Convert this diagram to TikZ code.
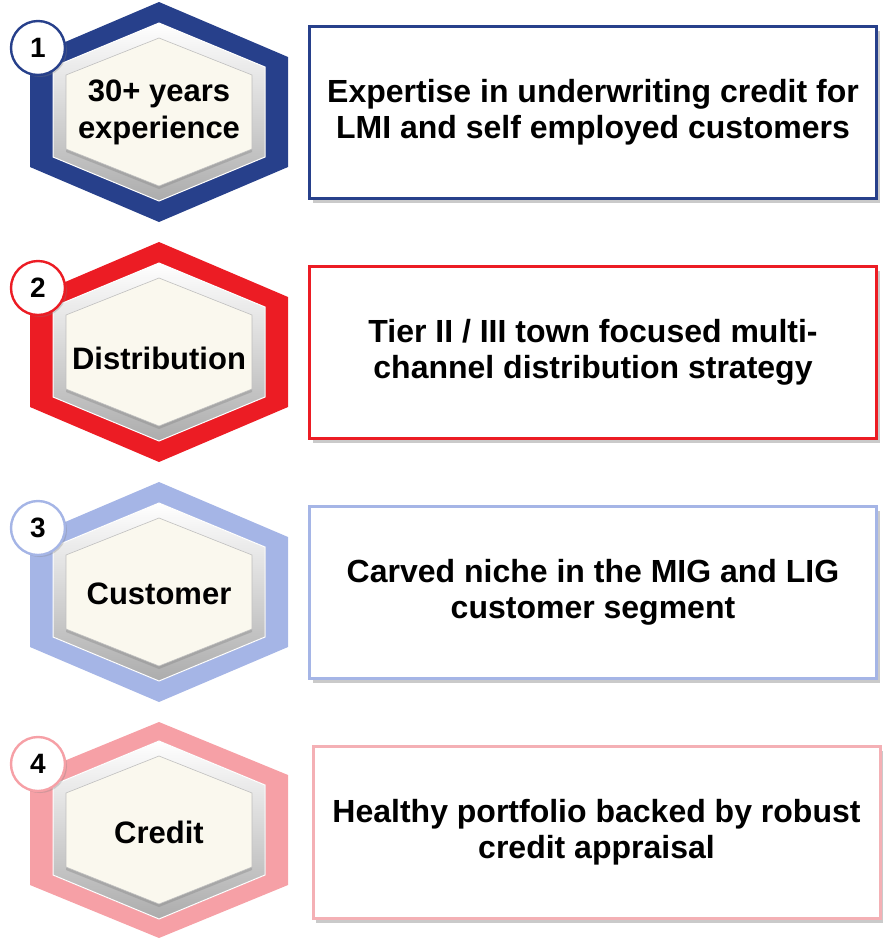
\documentclass[tikz,border=0pt]{standalone}
\usepackage{fontspec}
\setmainfont{Liberation Sans}
\usetikzlibrary{shadows}

\definecolor{navy}{HTML}{27408B}
\definecolor{scarlet}{HTML}{EC1C24}
\definecolor{lavender}{HTML}{A5B5E6}
\definecolor{rose}{HTML}{F6A0A6}
\definecolor{rosebox}{HTML}{F4B0B5}
\definecolor{cream}{HTML}{FAF8EE}

% hexagon round the origin: half width, half height, half side
\newcommand{\hexpath}[3]{(0,-#2) -- (#1,-#3) -- (#1,#3) -- (0,#2) -- (-#1,#3) -- (-#1,-#3) -- cycle}

\begin{document}
\begin{tikzpicture}[x=1pt,y=-1pt,
	bevel/.style={top color=white,middle color=gray!12,bottom color=gray!65,draw=white,line width=1pt},
	face/.style={fill=cream,draw=gray!50,line width=0.6pt,
		drop shadow={shadow xshift=0pt,shadow yshift=-3pt,opacity=.35}},
	numdot/.style={circle,draw=#1,line width=2.4pt,fill=white,minimum size=54pt,inner sep=0pt,
		font=\fontsize{28}{28}\selectfont\bfseries,
		drop shadow={shadow xshift=2pt,shadow yshift=-2pt,opacity=.3}},
	hextext/.style={align=center,font=\fontsize{31}{37}\selectfont\bfseries},
	infobox/.style={draw=#1,line width=3pt,fill=white,minimum width=567pt,minimum height=172pt,
		align=center,font=\fontsize{32}{36}\selectfont\bfseries,
		drop shadow={shadow xshift=3pt,shadow yshift=-4pt,opacity=.35,fill=black!60}}]
	\useasboundingbox (0,0) rectangle (883,938);

	% 1
	\begin{scope}[shift={(159,112)}]
		\fill[navy] \hexpath{129}{110}{55};
		\fill[bevel] \hexpath{106}{89}{45};
		\filldraw[face] \hexpath{93}{74}{37};
		\node[hextext] (lbl1) at (0,0) {30+ years\\experience};
		\node[numdot=navy] (num1) at (-121,-64) {1};
	\end{scope}
	\node[infobox=navy] (box1) at (593,112.5) {Expertise in underwriting credit for\\LMI and self employed customers};

	% 2
	\begin{scope}[shift={(159,352)}]
		\fill[scarlet] \hexpath{129}{110}{55};
		\fill[bevel] \hexpath{106}{89}{45};
		\filldraw[face] \hexpath{93}{74}{37};
		\node[hextext] (lbl2) at (0,6) {Distribution};
		\node[numdot=scarlet] (num2) at (-121,-64) {2};
	\end{scope}
	\node[infobox=scarlet] (box2) at (593,352.5) {Tier II / III town focused multi-\\channel distribution strategy};

	% 3
	\begin{scope}[shift={(159,592)}]
		\fill[lavender] \hexpath{129}{110}{55};
		\fill[bevel] \hexpath{106}{89}{45};
		\filldraw[face] \hexpath{93}{74}{37};
		\node[hextext] (lbl3) at (0,2) {Customer};
		\node[numdot=lavender] (num3) at (-121,-64) {3};
	\end{scope}
	\node[infobox=lavender] (box3) at (593,592.5) {Carved niche in the MIG and LIG\\customer segment};

	% 4
	\begin{scope}[shift={(159,830)}]
		\fill[rose] \hexpath{129}{108}{55};
		\fill[bevel] \hexpath{106}{89}{45};
		\filldraw[face] \hexpath{93}{74}{37};
		\node[hextext] (lbl4) at (0,2) {Credit};
		\node[numdot=rose] (num4) at (-121,-66) {4};
	\end{scope}
	\node[infobox=rosebox] (box4) at (596.5,832.5) {Healthy portfolio backed by robust\\credit appraisal};
\end{tikzpicture}
\end{document}
